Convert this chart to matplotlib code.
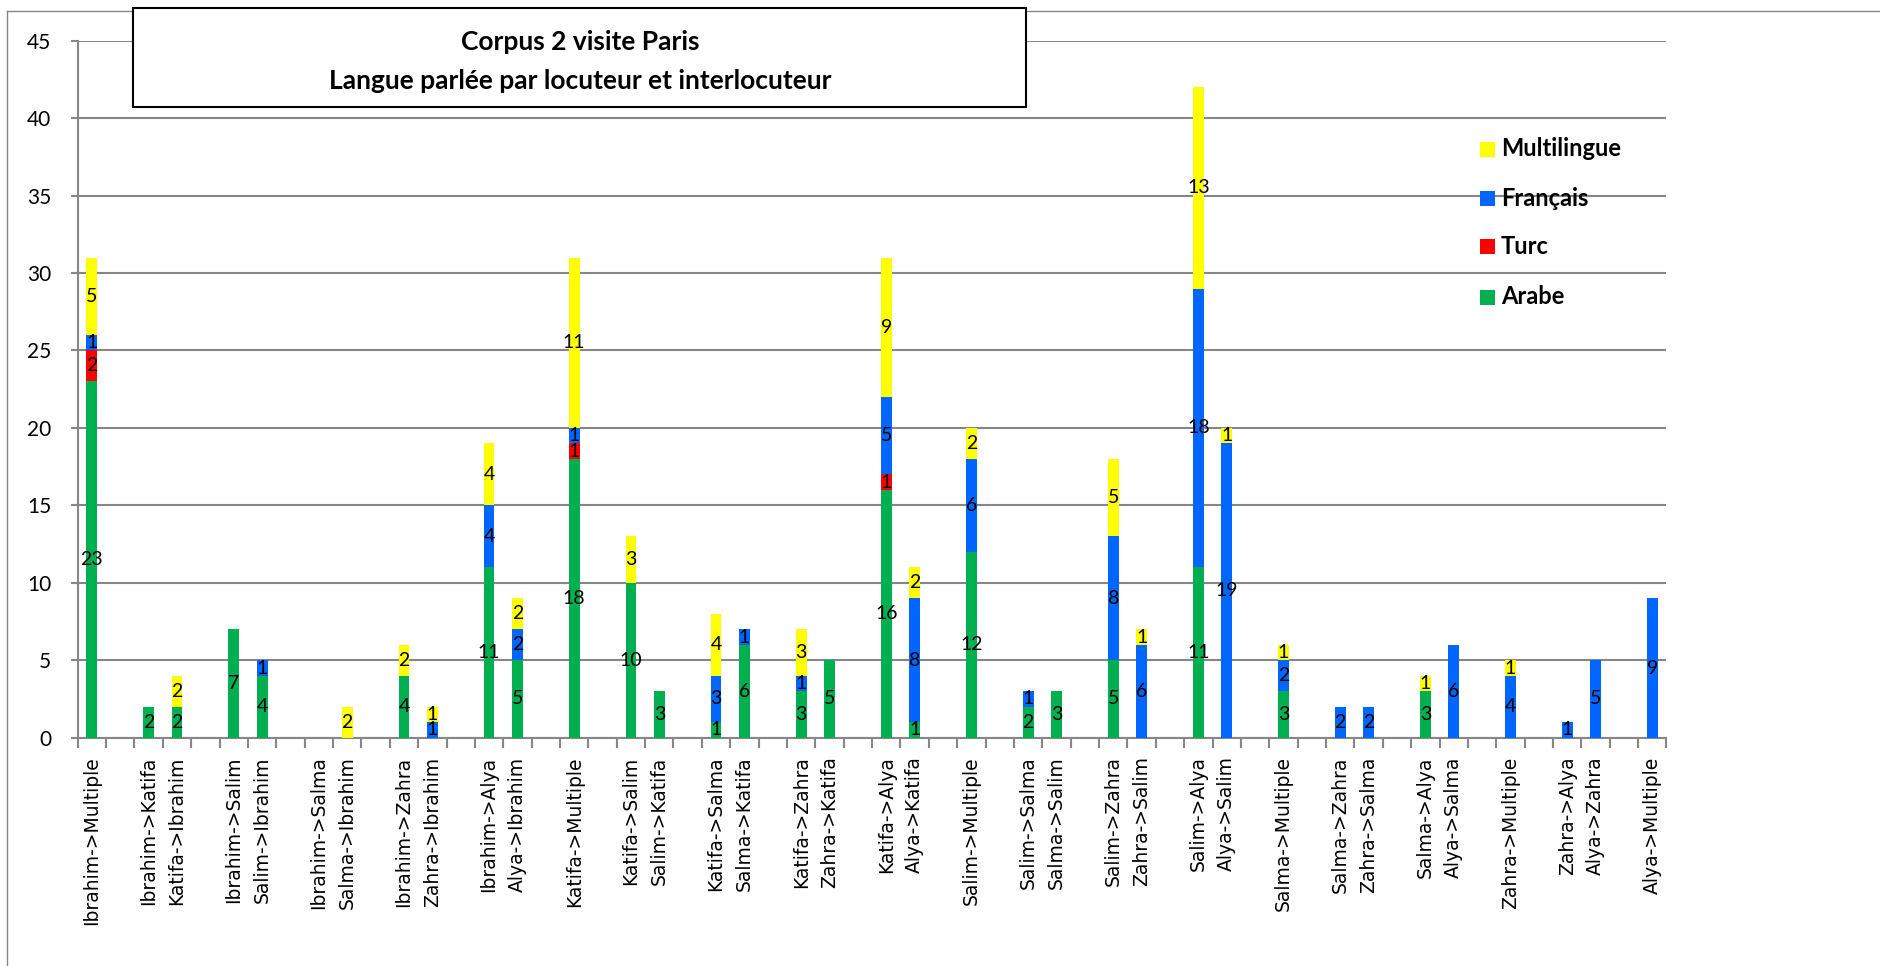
import matplotlib
matplotlib.use('Agg')
import matplotlib.pyplot as plt
from matplotlib.patches import Rectangle
from matplotlib.lines import Line2D
import numpy as np

# categories (blank slots are the gaps between pairs, as in the original sheet)
labels = ["Ibrahim->Multiple", "", "Ibrahim->Katifa", "Katifa->Ibrahim", "",
          "Ibrahim->Salim", "Salim->Ibrahim", "", "Ibrahim->Salma", "Salma->Ibrahim", "",
          "Ibrahim->Zahra", "Zahra->Ibrahim", "", "Ibrahim->Alya", "Alya->Ibrahim", "",
          "Katifa->Multiple", "", "Katifa->Salim", "Salim->Katifa", "",
          "Katifa->Salma", "Salma->Katifa", "", "Katifa->Zahra", "Zahra->Katifa", "",
          "Katifa->Alya", "Alya->Katifa", "", "Salim->Multiple", "",
          "Salim->Salma", "Salma->Salim", "", "Salim->Zahra", "Zahra->Salim", "",
          "Salim->Alya", "Alya->Salim", "", "Salma->Multiple", "",
          "Salma->Zahra", "Zahra->Salma", "", "Salma->Alya", "Alya->Salma", "",
          "Zahra->Multiple", "", "Zahra->Alya", "Alya->Zahra", "", "Alya->Multiple"]

arabe = [23, 0, 2, 2, 0, 7, 4, 0, 0, 0,
         0, 4, 0, 0, 11, 5, 0, 18, 0, 10,
         3, 0, 1, 6, 0, 3, 5, 0, 16, 1,
         0, 12, 0, 2, 3, 0, 5, 0, 0, 11,
         0, 0, 3, 0, 0, 0, 0, 3, 0, 0,
         0, 0, 0, 0, 0, 0]
turc = [2, 0, 0, 0, 0, 0, 0, 0, 0, 0,
        0, 0, 0, 0, 0, 0, 0, 1, 0, 0,
        0, 0, 0, 0, 0, 0, 0, 0, 1, 0,
        0, 0, 0, 0, 0, 0, 0, 0, 0, 0,
        0, 0, 0, 0, 0, 0, 0, 0, 0, 0,
        0, 0, 0, 0, 0, 0]
francais = [1, 0, 0, 0, 0, 0, 1, 0, 0, 0,
            0, 0, 1, 0, 4, 2, 0, 1, 0, 0,
            0, 0, 3, 1, 0, 1, 0, 0, 5, 8,
            0, 6, 0, 1, 0, 0, 8, 6, 0, 18,
            19, 0, 2, 0, 2, 2, 0, 0, 6, 0,
            4, 0, 1, 5, 0, 9]
multilingue = [5, 0, 0, 2, 0, 0, 0, 0, 0, 2,
               0, 2, 1, 0, 4, 2, 0, 11, 0, 3,
               0, 0, 4, 0, 0, 3, 0, 0, 9, 2,
               0, 2, 0, 0, 0, 0, 5, 1, 0, 13,
               1, 0, 1, 0, 0, 0, 0, 1, 0, 0,
               1, 0, 0, 0, 0, 0]

series = [("Arabe", arabe, "#00B050"),
          ("Turc", turc, "#FF0000"),
          ("Français", francais, "#0066FF"),
          ("Multilingue", multilingue, "#FFFF00")]

W, H = 1881, 966
grey = "#868686"
fig = plt.figure(figsize=(W / 100, H / 100), dpi=100)
ax = fig.add_axes([77.7 / W, 1 - 737.7 / H, (1666.5 - 77.7) / W, (737.7 - 40.7) / H])

x = np.arange(len(labels))
bottom = np.zeros(len(x))
for name, vals, col in series:
    vals = np.array(vals)
    bars = ax.bar(x, vals, 0.38, bottom=bottom, color=col, zorder=3)
    ax.bar_label(bars, labels=[str(v) if v else "" for v in vals],
                 label_type="center", fontsize=14, family="Lato", zorder=4)
    bottom += vals

ax.set_xlim(-0.5, len(labels) - 0.5)
ax.set_ylim(0, 45)
ax.set_yticks(range(0, 46, 5))
ax.grid(axis="y", color=grey, lw=1.5)
ax.set_axisbelow(True)
for s in ["top", "right"]:
    ax.spines[s].set_visible(False)
for s in ["left", "bottom"]:
    ax.spines[s].set_color(grey)
    ax.spines[s].set_linewidth(1.5)

ax.set_xticks(x, labels, rotation=90, fontsize=13.5, family="DejaVu Sans")
ax.tick_params(axis="x", length=0, pad=13.5)
ax.set_xticks(np.arange(-0.5, len(labels), 1), minor=True)
ax.tick_params(axis="x", which="minor", length=7, color=grey, width=1.5)
ax.tick_params(axis="y", length=5, color=grey, width=1.5, labelsize=15, pad=14)
for t in ax.get_yticklabels():
    t.set_family("Lato")

# title box
fig.patches.append(Rectangle((133 / W, 1 - 107 / H), (1026 - 133) / W, (107 - 8) / H,
                             transform=fig.transFigure, facecolor="white",
                             edgecolor="black", lw=1.5, zorder=5))
fig.text(580 / W, 1 - 50 / H, "Corpus 2 visite Paris", ha="center", va="baseline",
         fontsize=19, fontweight="bold", family="Lato", zorder=6)
fig.text(580 / W, 1 - 89 / H, "Langue parlée par locuteur et interlocuteur",
         ha="center", va="baseline", fontsize=19, fontweight="bold", family="Lato", zorder=6)

# outer chart frame
fig.add_artist(Line2D([7 / W, 1], [1 - 11 / H, 1 - 11 / H], color=grey, lw=1))
fig.add_artist(Line2D([7 / W, 7 / W], [0, 1 - 11 / H], color=grey, lw=1))

# legend
rows_y = [149, 198, 247, 297]
for (name, vals, col), yy in zip(series[::-1], rows_y):
    fig.patches.append(Rectangle((1480 / W, 1 - (yy + 7.5) / H), 15 / W, 15 / H,
                                 transform=fig.transFigure, facecolor=col,
                                 edgecolor="none", zorder=5))
    fig.text(1501 / W, 1 - yy / H, name, ha="left", va="center", fontsize=17,
             fontweight="bold", family="Lato", zorder=6)

fig.savefig("out.png", dpi=100)
